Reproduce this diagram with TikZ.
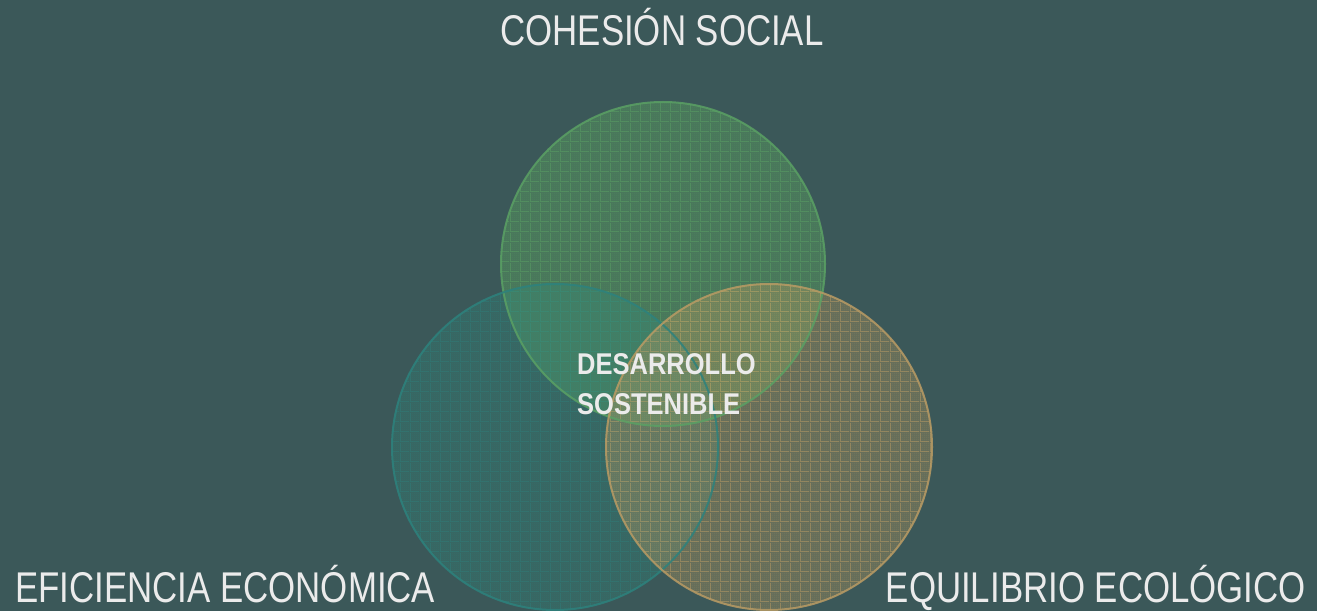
\documentclass[tikz,border=0pt]{standalone}
\usepackage{fontspec}
\usetikzlibrary{patterns}
\newfontfamily\labelfont{Liberation Sans}[FakeStretch=0.81]
\newfontfamily\centerfont{Liberation Sans Bold}[FakeStretch=0.85]
\definecolor{bgcol}{RGB}{59,88,89}
\definecolor{txtcol}{RGB}{235,235,235}
\definecolor{gfill}{RGB}{100,180,95}
\definecolor{gline}{RGB}{90,160,100}
\definecolor{tfill}{RGB}{50,140,125}
\definecolor{tline}{RGB}{45,130,125}
\definecolor{ofill}{RGB}{190,155,95}
\definecolor{oline}{RGB}{185,155,100}
\pgfdeclarepatternformonly{coarsegrid}{\pgfpointorigin}{\pgfpoint{10pt}{10pt}}{\pgfpoint{10pt}{10pt}}{%
  \pgfsetlinewidth{1pt}%
  \pgfpathmoveto{\pgfpoint{0pt}{0.5pt}}\pgfpathlineto{\pgfpoint{10pt}{0.5pt}}%
  \pgfpathmoveto{\pgfpoint{0.5pt}{0pt}}\pgfpathlineto{\pgfpoint{0.5pt}{10pt}}%
  \pgfusepath{stroke}}
\pgfdeclarepatternformonly{finegrid}{\pgfpointorigin}{\pgfpoint{2pt}{2pt}}{\pgfpoint{2pt}{2pt}}{%
  \pgfsetlinewidth{0.5pt}%
  \pgfpathmoveto{\pgfpoint{0pt}{0.25pt}}\pgfpathlineto{\pgfpoint{2pt}{0.25pt}}%
  \pgfpathmoveto{\pgfpoint{0.25pt}{0pt}}\pgfpathlineto{\pgfpoint{0.25pt}{2pt}}%
  \pgfusepath{stroke}}
\tikzset{
  lbl/.style={text=txtcol, inner sep=0pt, font=\labelfont\fontsize{43}{43}\selectfont},
  ctr/.style={text=txtcol, inner sep=0pt, align=left, font=\centerfont\fontsize{30}{40}\selectfont},
  ring/.style={draw=#1, draw opacity=0.85, line width=2pt},
}
\begin{document}
\begin{tikzpicture}[x=1pt,y=1pt]
\fill[bgcol] (0,0) rectangle (1317,611);
\useasboundingbox (0,0) rectangle (1317,611);
% circle centres
\coordinate (cg) at (663,347);
\coordinate (ct) at (555,164);
\coordinate (co) at (769,164);
% green
\fill[gfill, fill opacity=0.35] (cg) circle[radius=162];
\fill[pattern=finegrid, pattern color=gline, opacity=0.18] (cg) circle[radius=162];
\fill[pattern=coarsegrid, pattern color=gline, opacity=0.5] (cg) circle[radius=162];
% teal
\fill[tfill, fill opacity=0.3] (ct) circle[radius=163];
\fill[pattern=finegrid, pattern color=tline, opacity=0.18] (ct) circle[radius=163];
\fill[pattern=coarsegrid, pattern color=tline, opacity=0.4] (ct) circle[radius=163];
% orange
\fill[ofill, fill opacity=0.33] (co) circle[radius=163];
\fill[pattern=finegrid, pattern color=oline, opacity=0.18] (co) circle[radius=163];
\fill[pattern=coarsegrid, pattern color=oline, opacity=0.5] (co) circle[radius=163];
% rings
\draw[ring=gline] (cg) circle[radius=162];
\draw[ring=tline] (ct) circle[radius=163];
\draw[ring=oline] (co) circle[radius=163];
% labels
\node[lbl, anchor=base] (social) at (662,565) {COHESIÓN SOCIAL};
\node[lbl, anchor=base west] (econ) at (15,9) {EFICIENCIA ECONÓMICA};
\node[lbl, anchor=base east] (eco) at (1306,9) {EQUILIBRIO ECOLÓGICO};
\node[ctr, anchor=base west] (des) at (577,197) {DESARROLLO\\SOSTENIBLE};
\end{tikzpicture}
\end{document}
